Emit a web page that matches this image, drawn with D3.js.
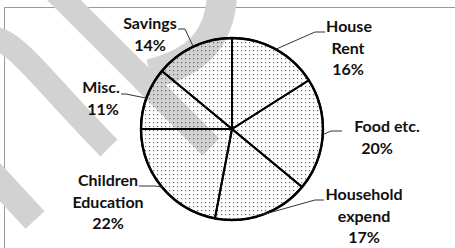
<!DOCTYPE html>
<html><head><meta charset="utf-8">
<script src="https://cdn.jsdelivr.net/npm/d3@7"></script>
<style>html,body{margin:0;padding:0;background:#fff;}svg{display:block;}</style>
</head><body>
<script>
// ---- data ----
const categories = ["House Rent", "Food etc.", "Household expend", "Children Education", "Misc.", "Savings"];
const values = [16, 20, 17, 22, 11, 14];
const labelNames = [["House", "Rent"], ["Food etc."], ["Household", "expend"], ["Children", "Education"], ["Misc."], ["Savings"]];

// ---- layout ----
const W = 455, H = 248;
const cx = 232, cy = 129, R = 91;
// label line anchors [x, first baseline] and per-line x
const labelLayout = [
  {xs: [349, 348, 348], y: 32, knee: [315, 32], end: [325, 32]},
  {xs: [387, 377], y: 132, knee: [331, 131], end: [342, 131]},
  {xs: [364, 364, 364], y: 200, knee: [315, 200], end: [324, 200]},
  {xs: [108, 108, 108], y: 186, knee: [155, 186], end: [139, 186]},
  {xs: [101, 103], y: 93, knee: [126, 94], end: [121, 94]},
  {xs: [150, 150], y: 29, knee: [185, 29], end: [178, 29]}
];
const lineH = 21.5;

const svg = d3.select("body").append("svg").attr("width", W).attr("height", H);
const defs = svg.append("defs");
const pat = defs.append("pattern").attr("id", "dots").attr("patternUnits", "userSpaceOnUse")
  .attr("width", 4).attr("height", 4);
pat.append("rect").attr("x", 1).attr("y", 1).attr("width", 1.2).attr("height", 1.2).attr("fill", "#666");

// frame lines
svg.append("line").attr("x1", 4.5).attr("y1", 7.5).attr("x2", W).attr("y2", 7.5).attr("stroke", "#9a9a9a").attr("stroke-width", 1);
svg.append("line").attr("x1", 4.5).attr("y1", 7.5).attr("x2", 4.5).attr("y2", H).attr("stroke", "#9a9a9a").attr("stroke-width", 1);

// watermark bands (decorative)
const wm = svg.append("g").attr("fill", "none").attr("stroke", "#d2d2d2").attr("stroke-linecap", "butt");
wm.append("path").attr("d", "M 45,-19 L 211,147").attr("stroke-width", 24);
wm.append("path").attr("d", "M 222,-10 C 222,35 200,62 150,74").attr("stroke-width", 30);
wm.append("path").attr("d", "M -10,38 C 15,38 40,78 109,148").attr("stroke-width", 24);
wm.append("path").attr("d", "M -15,166 L 35,220").attr("stroke-width", 26);

// pie
const pie = d3.pie().sort(null).value(d => d)(values);
const arc = d3.arc().innerRadius(0).outerRadius(R);
const g = svg.append("g").attr("transform", `translate(${cx},${cy})`);
g.selectAll("path.slice").data(pie).join("path").attr("class", "slice")
  .attr("d", arc).attr("fill", "url(#dots)").attr("stroke", "#000").attr("stroke-width", 2).attr("stroke-linejoin", "round");
g.append("circle").attr("r", R).attr("fill", "none").attr("stroke", "#000").attr("stroke-width", 2.4);

// leader lines
pie.forEach((d, i) => {
  const a = (d.startAngle + d.endAngle) / 2;
  const px = cx + R * Math.sin(a), py = cy - R * Math.cos(a);
  const L = labelLayout[i];
  svg.append("polyline").attr("points", [[px, py], L.knee, L.end].map(p => p.join(",")).join(" "))
    .attr("fill", "none").attr("stroke", "#333").attr("stroke-width", 1);
});

// labels
pie.forEach((d, i) => {
  const L = labelLayout[i];
  const lines = labelNames[i].concat([values[i] + "%"]);
  lines.forEach((t, j) => {
    svg.append("text").attr("x", L.xs[j]).attr("y", L.y + j * lineH)
      .attr("text-anchor", "middle").attr("font-family", "Lato, 'Open Sans', sans-serif")
      .attr("font-weight", 700).attr("font-size", 16).attr("fill", "#111").text(t);
  });
});
</script>
</body></html>
